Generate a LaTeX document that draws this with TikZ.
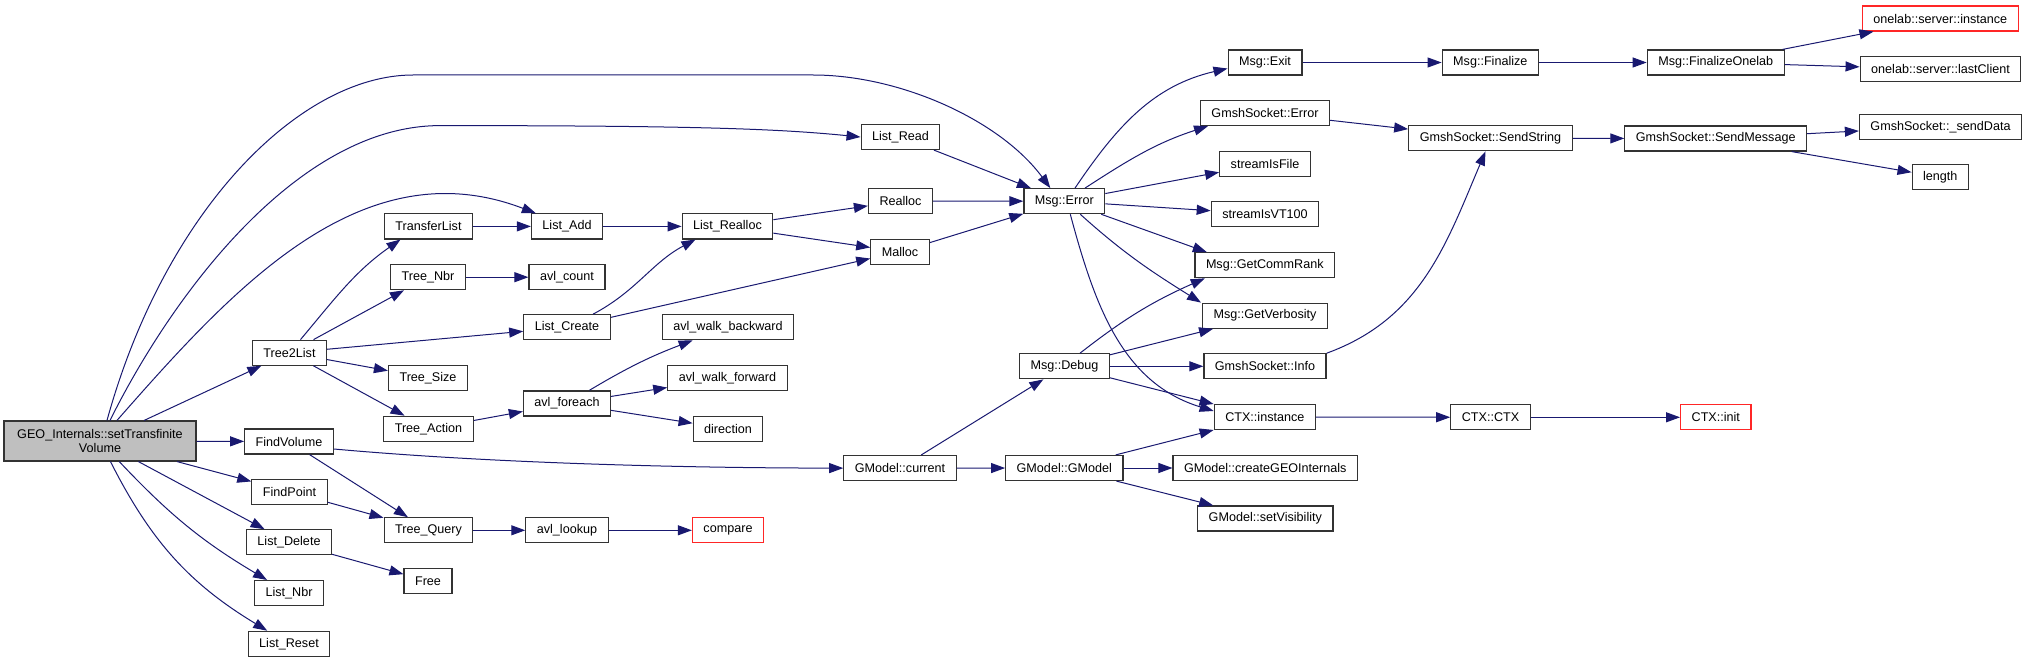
\documentclass[tikz,border=0pt]{standalone}
\usepackage{fontspec}
\setmainfont{Liberation Sans}
\usetikzlibrary{arrows.meta}
\definecolor{edgeblue}{HTML}{191970}
\tikzset{
	fn/.style={draw=black!80,line width=1.2pt,fill=white,inner xsep=11pt,inner ysep=0pt,minimum height=25pt,font=\fontsize{12.6}{14}\selectfont},
	ext/.style={fn,draw=red!85},
	call/.style={draw=edgeblue,line width=1pt,-{Triangle[length=14pt,width=10pt]}}
}
\begin{document}
\begin{tikzpicture}[x=1pt,y=-1pt]
			\useasboundingbox (0,0) rectangle (2029,663);
			\node[fn,fill=black!25,align=center,minimum width=192pt,minimum height=40pt] (main) at (100,441) {GEO\_Internals::setTransfinite\\Volume};
			\node[fn] (trtolist) at (289.5,352.7) {Tree2List};
			\node[fn] (fvol) at (289,441.5) {FindVolume};
			\node[fn] (fpoint) at (289.5,491.6) {FindPoint};
			\node[fn] (ldel) at (289,542.3) {List\_Delete};
			\node[fn] (lnbr) at (289,593.1) {List\_Nbr};
			\node[fn] (lreset) at (289,643.8) {List\_Reset};
			\node[fn] (tlist) at (428.5,226.4) {TransferList};
			\node[fn] (tnbr) at (428,277.2) {Tree\_Nbr};
			\node[fn] (tsize) at (428,378) {Tree\_Size};
			\node[fn] (taction) at (428.5,428.8) {Tree\_Action};
			\node[fn] (tquery) at (428.5,530.3) {Tree\_Query};
			\node[fn] (free) at (428,581) {Free};
			\node[fn] (ladd) at (567,226.4) {List\_Add};
			\node[fn] (avlcount) at (567,277.2) {avl\_count};
			\node[fn] (lcreate) at (567,327.3) {List\_Create};
			\node[fn] (avlforeach) at (567,403.4) {avl\_foreach};
			\node[fn] (avllookup) at (567,530.3) {avl\_lookup};
			\node[fn] (lrealloc) at (727.5,226.4) {List\_Realloc};
			\node[fn] (avlback) at (728,327.3) {avl\_walk\_backward};
			\node[fn] (avlfwd) at (727.5,378) {avl\_walk\_forward};
			\node[fn] (direction) at (728,428.8) {direction};
			\node[ext] (compare) at (728,530.3) {compare};
			\node[fn] (lread) at (900.5,137) {List\_Read};
			\node[fn] (realloc) at (900.5,201.1) {Realloc};
			\node[fn] (malloc) at (900,251.8) {Malloc};
			\node[fn] (gcur) at (900,468.1) {GModel::current};
			\node[fn] (msgerror) at (1064.3,201.2) {Msg::Error};
			\node[fn] (msgdebug) at (1064.5,366.3) {Msg::Debug};
			\node[fn] (ggmodel) at (1064.3,468) {GModel::GModel};
			\node[fn] (msgexit) at (1265,62.5) {Msg::Exit};
			\node[fn] (gserror) at (1265,113) {GmshSocket::Error};
			\node[fn] (sisfile) at (1265,163.7) {streamIsFile};
			\node[fn] (sisvt) at (1265,214.2) {streamIsVT100};
			\node[fn] (getrank) at (1264.8,265.2) {Msg::GetCommRank};
			\node[fn] (getverb) at (1265,315.7) {Msg::GetVerbosity};
			\node[fn] (gsinfo) at (1265,366.3) {GmshSocket::Info};
			\node[fn] (ctxinst) at (1264.8,417) {CTX::instance};
			\node[fn] (cgeo) at (1265.3,468) {GModel::createGEOInternals};
			\node[fn] (setvis) at (1265.3,518.5) {GModel::setVisibility};
			\node[fn] (msgfin) at (1490.3,62.5) {Msg::Finalize};
			\node[fn] (sendstr) at (1490.5,138.3) {GmshSocket::SendString};
			\node[fn] (ctxctx) at (1490.5,417.3) {CTX::CTX};
			\node[fn] (finonelab) at (1715.7,62.5) {Msg::FinalizeOnelab};
			\node[fn] (sendmsg) at (1715.7,138.5) {GmshSocket::SendMessage};
			\node[ext] (ctxinit) at (1715.8,417.3) {CTX::init};
			\node[ext] (olinst) at (1940.3,18.5) {onelab::server::instance};
			\node[fn] (olclient) at (1940.5,69.3) {onelab::server::lastClient};
			\node[fn] (senddata) at (1940.5,126.7) {GmshSocket::\_sendData};
			\node[fn] (length) at (1940.3,177.2) {length};
			\draw[call] ([xshift=7]main.north) .. controls (165,210) and (300,75) .. (413,75) -- (813,75) .. controls (900,75) and (1000,120) .. ([xshift=-14]msgerror.north);
			\draw[call] ([xshift=10]main.north) .. controls (175,290) and (300,125.6) .. (440,125.6) .. controls (700,125.6) and (780,129) .. (lread.west);
			\draw[call] ([xshift=17]main.north) .. controls (230,292) and (360,146) .. ([xshift=5]ladd.north west);
			\draw[call] (main) -- (trtolist);
			\draw[call] (main) -- (fvol);
			\draw[call] (main) -- (fpoint);
			\draw[call] (main) -- (ldel);
			\draw[call] (main) to[bend right=8] (lnbr);
			\draw[call] (main) to[bend right=16] (lreset);
			\draw[call] ([xshift=11]trtolist.north) to[out=50,in=215] ([xshift=-28]tlist.south);
			\draw[call] (trtolist) -- (tnbr);
			\draw[call] (trtolist) -- (lcreate);
			\draw[call] (trtolist) -- (tsize);
			\draw[call] (trtolist) -- (taction);
			\draw[call] (tlist) -- (ladd);
			\draw[call] (tnbr) -- (avlcount);
			\draw[call] (taction) -- (avlforeach);
			\draw[call] ([yshift=-7.5]fvol.east) .. controls (500,464) and (700,468) .. (gcur.west);
			\draw[call] (fvol) -- (tquery);
			\draw[call] (fpoint) -- (tquery);
			\draw[call] (tquery) -- (avllookup);
			\draw[call] (avllookup) -- (compare);
			\draw[call] (ldel) -- (free);
			\draw[call] (lread) -- (msgerror);
			\draw[call] (ladd) -- (lrealloc);
			\draw[call] (lrealloc) -- (realloc);
			\draw[call] (lrealloc) -- (malloc);
			\draw[call] ([xshift=26]lcreate.north) to[out=28,in=208] ([xshift=-32]lrealloc.south);
			\draw[call] (lcreate) -- (malloc);
			\draw[call] (avlforeach) to[bend left=5] (avlback);
			\draw[call] (avlforeach) -- (avlfwd);
			\draw[call] (avlforeach) -- (direction);
			\draw[call] (realloc) -- (msgerror);
			\draw[call] (malloc) -- (msgerror);
			\draw[call] (gcur) -- (msgdebug);
			\draw[call] (gcur) -- (ggmodel);
			\draw[call] ([xshift=10.7]msgerror.north) to[out=56,in=193] ([yshift=-6]msgexit.west);
			\draw[call] ([xshift=20.7]msgerror.north) to[out=33,in=198] ([xshift=-57]gserror.south);
			\draw[call] (msgerror) -- (sisfile);
			\draw[call] (msgerror) -- (sisvt);
			\draw[call] ([xshift=-4]msgerror.south east) -- ([xshift=-58]getrank.north);
			\draw[call] ([xshift=16]msgerror.south) to[out=-42,in=148] ([xshift=-64]getverb.north);
			\draw[call] ([xshift=6]msgerror.south) to[out=-75,in=163] ([yshift=6]ctxinst.west);
			\draw[call] ([xshift=15.5]msgdebug.north) to[out=38,in=204] ([xshift=-60]getrank.south);
			\draw[call] (msgdebug) -- (getverb);
			\draw[call] (msgdebug) -- (gsinfo);
			\draw[call] (msgdebug) -- (ctxinst);
			\draw[call] (ggmodel) -- (ctxinst);
			\draw[call] (ggmodel) -- (cgeo);
			\draw[call] (ggmodel) -- (setvis);
			\draw[call] (msgexit) -- (msgfin);
			\draw[call] (gserror) -- (sendstr);
			\draw[call] (gsinfo.north east) to[out=20,in=247] ([xshift=-5]sendstr.south);
			\draw[call] (sendstr) -- (sendmsg);
			\draw[call] (sendmsg) -- (senddata);
			\draw[call] (sendmsg) -- (length);
			\draw[call] (msgfin) -- (finonelab);
			\draw[call] (finonelab) -- (olinst);
			\draw[call] (finonelab) -- (olclient);
			\draw[call] (ctxinst) -- (ctxctx);
			\draw[call] (ctxctx) -- (ctxinit);
\end{tikzpicture}
\end{document}
